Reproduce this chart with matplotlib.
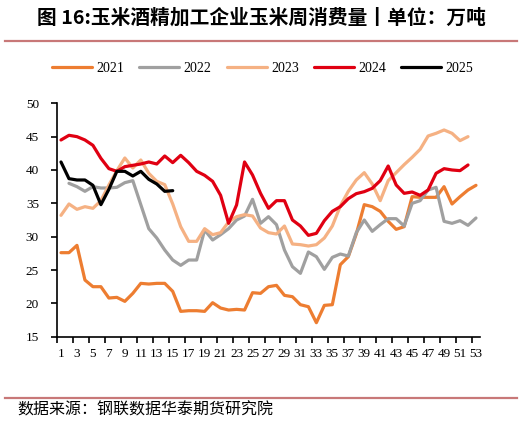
import matplotlib
matplotlib.use("Agg")
import matplotlib.pyplot as plt
import numpy as np

weeks = list(range(1, 54))

y2021 = [27.6, 27.6, 28.7, 23.5, 22.5, 22.5, 20.8, 20.9, 20.3, 21.5,
         23.0, 22.9, 23.0, 23.0, 21.8, 18.8, 18.9, 18.9, 18.8, 20.1,
         19.3, 19.0, 19.1, 19.0, 21.6, 21.5, 22.5, 22.7, 21.2, 21.0,
         19.8, 19.5, 17.1, 19.7, 19.8, 25.8, 27.0, 30.4, 34.8, 34.5,
         33.8, 32.3, 31.1, 31.5, 36.0, 35.9, 35.9, 35.9, 37.5, 34.9,
         36.0, 37.0, 37.7]
y2022 = [None, 38.0, 37.5, 36.8, 37.5, 37.3, 37.3, 37.4, 38.1, 38.4,
         34.8, 31.2, 29.8, 28.0, 26.5, 25.7, 26.5, 26.5, 31.0, 29.5,
         30.3, 31.2, 32.5, 33.1, 35.6, 32.0, 33.0, 31.8, 28.0, 25.5,
         24.5, 27.7, 27.0, 25.1, 26.9, 27.4, 27.1, 30.6, 32.5, 30.8,
         31.8, 32.7, 32.7, 31.6, 35.0, 35.4, 37.0, 37.4, 32.3, 32.0,
         32.4, 31.7, 32.8]
y2023 = [33.2, 34.9, 34.1, 34.5, 34.25, 35.4, 37.75, 39.9, 41.8, 40.3,
         41.5, 39.5, 38.3, 37.8, 34.9, 31.5, 29.3, 29.3, 31.2, 30.3,
         30.6, 32.2, 33.0, 33.3, 33.1, 31.3, 30.6, 30.4, 31.6, 28.9,
         28.8, 28.6, 28.8, 29.8, 31.6, 34.6, 36.8, 38.5, 39.6, 37.9,
         35.4, 38.4, 39.6, 40.8, 41.9, 43.1, 45.1, 45.5, 46.0, 45.5,
         44.4, 45.0, None]
y2024 = [44.5, 45.2, 45.0, 44.5, 43.7, 41.75, 40.2, 39.8, 40.5, 40.7,
         40.9, 41.2, 40.9, 42.1, 41.1, 42.2, 41.1, 39.8, 39.2, 38.3,
         36.2, 32.0, 34.75, 41.2, 39.25, 36.5, 34.25, 35.4, 35.4, 32.5,
         31.6, 30.2, 30.5, 32.4, 33.8, 34.5, 35.7, 36.45, 36.75, 37.25,
         38.4, 40.6, 37.75, 36.5, 36.7, 36.2, 37.0, 39.5, 40.2, 40.0,
         39.9, 40.75, None]
y2025 = [41.2, 38.7, 38.5, 38.5, 37.7, 34.8, 37.1, 39.8, 39.8, 39.1,
         39.8, 38.6, 37.9, 36.8, 36.9]

series = [("2021", y2021, "#ED7D31"),
          ("2022", y2022, "#A0A0A0"),
          ("2023", y2023, "#F5B183"),
          ("2024", y2024, "#E00012"),
          ("2025", y2025, "#000000")]

title = "图 16:玉米酒精加工企业玉米周消费量丨单位：万吨"
source = "数据来源：钢联数据华泰期货研究院"

cjk = ['Noto Sans CJK SC', 'DejaVu Sans']
serif = ['Liberation Serif', 'DejaVu Serif']

fig = plt.figure(figsize=(5.22, 4.23), dpi=100)
ax = fig.add_axes([0.1092, 0.204, 0.9195 - 0.1092, 0.7558 - 0.204])

for name, vals, col in series:
    x = weeks[:len(vals)]
    y = np.array([np.nan if v is None else v for v in vals], dtype=float)
    ax.plot(x, y, color=col, lw=2.3, label=name, solid_joinstyle='round',
            solid_capstyle='round')

ax.set_xlim(0.5, 53.5)
ax.set_ylim(15, 50)
ax.set_yticks(range(15, 51, 5))
ax.set_xticks(range(1, 54, 2))
ax.set_xticks(np.arange(0.5, 53, 2), minor=True)
ax.tick_params(axis='x', which='major', length=0, pad=8, labelsize=9.5)
ax.tick_params(axis='x', which='minor', length=4, width=1.2, direction='out')
ax.tick_params(axis='y', length=4, width=1.2, direction='out', pad=9, labelsize=9.5)
for lab in ax.get_xticklabels() + ax.get_yticklabels():
    lab.set_family(serif)

for s in ['top', 'right']:
    ax.spines[s].set_visible(False)
for s in ['left', 'bottom']:
    ax.spines[s].set_linewidth(1.2)
    ax.spines[s].set_color('black')

leg = fig.legend(loc='center', bbox_to_anchor=(0.503, 0.839), ncol=5,
                 frameon=False, handlelength=2.9, handletextpad=0.3,
                 columnspacing=1.08, prop={'family': serif, 'size': 10})

fig.text(0.5, 0.958, title, ha='center', va='center', fontsize=14.2,
         fontweight='bold', family=cjk)
fig.add_artist(plt.Line2D([0.01, 0.99], [0.903, 0.903], transform=fig.transFigure,
                          color='#C87878', lw=1.6))
fig.add_artist(plt.Line2D([0.01, 0.99], [0.059, 0.059], transform=fig.transFigure,
                          color='#C87878', lw=1.6))
fig.text(0.033, 0.030, source, ha='left', va='center', fontsize=11.5, family=cjk)

fig.savefig("out.png", dpi=100)
